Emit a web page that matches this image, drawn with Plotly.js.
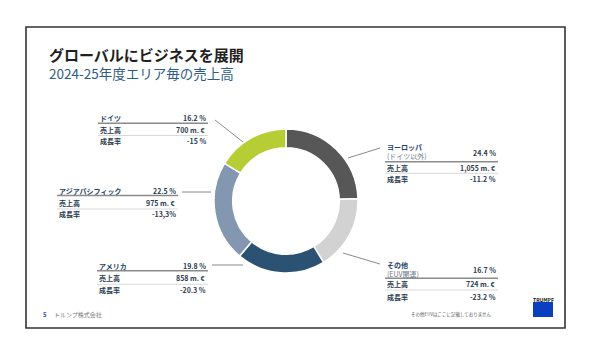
<!DOCTYPE html>
<html>
<head>
<meta charset="utf-8">
<script src="https://cdn.plot.ly/plotly-3.0.1.min.js"></script>
<style>html,body{margin:0;padding:0;background:#fff;}#chart{width:590px;height:356px;}</style>
</head>
<body>
<div id="chart"></div>
<script>
// ---- data ----
const regions = ['ヨーロッパ', 'その他', 'アメリカ', 'アジアパシフィック', 'ドイツ'];
const regionNotes = ['(ドイツ以外)', '(EUV関連)', '', '', ''];
const shares = [24.4, 16.7, 19.8, 22.5, 16.2];
const sales = [1055, 724, 858, 975, 700];
const growthLabels = ['-11.2 %', '-23.2 %', '-20.3 %', '-13,3%', '-15 %'];
const rowLabels = ['売上高', '成長率'];
const colors = ['#575757', '#d2d2d2', '#2b5273', '#8497b0', '#b7cd36'];
const titleText = 'グローバルにビジネスを展開';
const subtitleText = '2024-25年度エリア毎の売上高';

// ---- layout helpers (pixel -> paper) ----
const W = 590, H = 356;
const px = x => x / W;
const py = y => 1 - y / H;
const JP = '"Noto Sans CJK JP", "Noto Sans", sans-serif';

// table placement per region (same order as data)
const tables = [
  {x0: 385, x1: 498, yLab: 146.7, yShare: 153.3, r1: 161.7, ySales: 167.7, r2: 173.3, yGrowth: 179, lead: [348, 158, 380, 148]},
  {x0: 385, x1: 498, yLab: 265, yShare: 270, r1: 278.3, ySales: 284.3, r2: 290, yGrowth: 296.5, lead: [343, 253, 380, 264]},
  {x0: 97, x1: 208, yLab: 266, yShare: 266, r1: 270.7, ySales: 278.3, r2: 284.3, yGrowth: 289.5, lead: [212, 265, 243, 265]},
  {x0: 57, x1: 178, yLab: 191, yShare: 191, r1: 195.5, ySales: 203, r2: 209, yGrowth: 214.5, lead: [182, 192, 211, 192]},
  {x0: 98, x1: 208, yLab: 118, yShare: 118, r1: 123.3, ySales: 130, r2: 135.5, yGrowth: 141, lead: [215, 120, 243, 142]}
];

const annotations = [];
const shapes = [];
const txtColor = '#2a3b4f';
function ann(x, y, text, anchor, size, color, extra) {
  annotations.push(Object.assign({
    xref: 'paper', yref: 'paper', x: px(x), y: py(y), text: text,
    xanchor: anchor, yanchor: 'middle', showarrow: false, align: 'left',
    font: {family: JP, size: size, color: color}
  }, extra || {}));
}
function line(x0, y0, x1, y1, color, width) {
  shapes.push({type: 'line', xref: 'paper', yref: 'paper',
    x0: px(x0), y0: py(y0), x1: px(x1), y1: py(y1),
    line: {color: color, width: width}});
}

regions.forEach((r, i) => {
  const t = tables[i];
  if (regionNotes[i]) {
    ann(t.x0, t.yLab + 4.3, '<b>' + r + '</b><br><span style="color:#6a7a8c">' + regionNotes[i] + '</span>',
        'left', 7, '#24456b', {yanchor: 'middle'});
  } else {
    ann(t.x0, t.yLab, '<b>' + r + '</b>', 'left', 7, '#24456b');
  }
  ann(t.x1, t.yShare, '<b>' + shares[i].toFixed(1) + ' %</b>', 'right', 7, txtColor);
  line(t.x0, t.r1, t.x1, t.r1, '#8a8a8a', 1.5);
  ann(t.x0, t.ySales, '<b>' + rowLabels[0] + '</b>', 'left', 7, txtColor);
  ann(t.x1, t.ySales, '<b>' + sales[i].toLocaleString('en-US') + ' m. €</b>', 'right', 7, txtColor);
  line(t.x0, t.r2, t.x1, t.r2, '#cfcfcf', 0.8);
  ann(t.x0, t.yGrowth, '<b>' + rowLabels[1] + '</b>', 'left', 7, txtColor);
  ann(t.x1, t.yGrowth, '<b>' + growthLabels[i] + '</b>', 'right', 7, txtColor);
  line(t.lead[0], t.lead[1], t.lead[2], t.lead[3], '#6b6b6b', 0.8);
});

// titles
ann(47, 54, '<b>' + titleText + '</b>', 'left', 15, '#1f1f1f', {height: 17});
ann(47, 73, subtitleText, 'left', 13.5, '#2c5d8a', {height: 16});
// footer
ann(41, 314, '<b>5</b>', 'left', 6, '#2255aa');
ann(52, 314, 'トルンプ株式会社', 'left', 6, '#777777');
ann(494, 314, 'その他EUVはここに記載しておりません', 'right', 4.5, '#555555');
ann(543, 299.5, '<b>TRUMPF</b>', 'center', 5, '#111111');

// frame
shapes.push({type: 'rect', xref: 'paper', yref: 'paper',
  x0: px(26), y0: py(328), x1: px(565), y1: py(27),
  line: {color: '#333333', width: 1.6}});
// logo block
shapes.push({type: 'rect', xref: 'paper', yref: 'paper',
  x0: px(533), y0: py(317), x1: px(553), y1: py(302),
  line: {width: 0}, fillcolor: '#0a3fc0'});

const cx = 286, cy = 201, R = 72;
const trace = {
  type: 'pie',
  labels: regions,
  values: shares,
  sort: false,
  direction: 'clockwise',
  rotation: 0,
  hole: 0.74,
  textinfo: 'none',
  hoverinfo: 'label+percent',
  marker: {colors: colors, line: {color: '#ffffff', width: 1.5}},
  domain: {x: [px(cx - R), px(cx + R)], y: [py(cy + R), py(cy - R)]}
};

Plotly.newPlot('chart', [trace], {
  width: W, height: H,
  margin: {l: 0, r: 0, t: 0, b: 0},
  paper_bgcolor: '#ffffff',
  showlegend: false,
  annotations: annotations,
  shapes: shapes
}, {displayModeBar: false, staticPlot: true});
</script>
</body>
</html>
